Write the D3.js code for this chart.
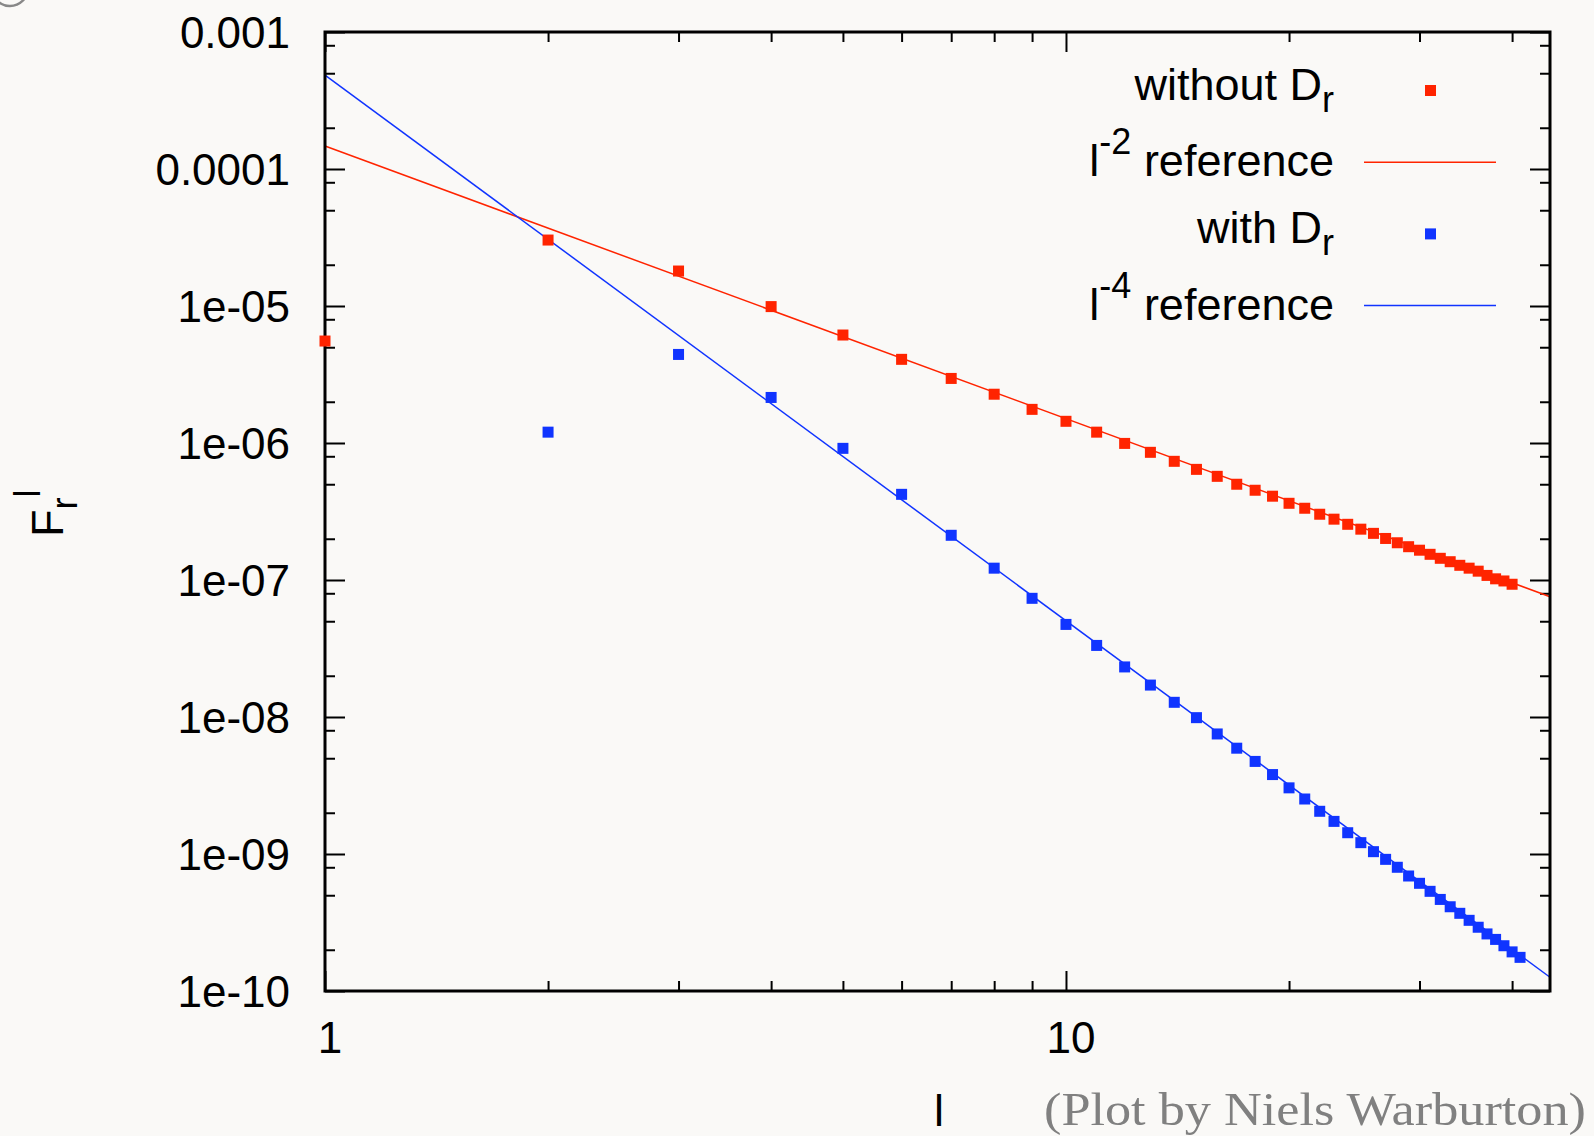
<!DOCTYPE html>
<html>
<head>
<meta charset="utf-8">
<script src="https://cdn.jsdelivr.net/npm/d3@7"></script>
<style>
body{margin:0;background:#faf9f7;}
svg{display:block;}
text{font-family:"Liberation Sans",Arial,Helvetica,sans-serif;fill:#000;}
</style>
</head>
<body>
<script>

// F_r^l for each l
var lRed = [1,2,3,4,5,6,7,8,9,10,11,12,13,14,15,16,17,18,19,20,
            21,22,23,24,25,26,27,28,29,30,31,32,33,34,35,36,37,38,39,40];
var fRed = [5.55e-6,3.03e-5,1.80e-5,9.9e-6,6.14e-6,4.08e-6,2.96e-6,2.27e-6,1.76e-6,1.44e-6,
            1.20e-6,9.93e-7,8.55e-7,7.35e-7,6.42e-7,5.71e-7,5.00e-7,4.52e-7,4.09e-7,3.63e-7,
            3.34e-7,3.02e-7,2.78e-7,2.55e-7,2.35e-7,2.19e-7,2.01e-7,1.87e-7,1.75e-7,1.65e-7,
            1.54e-7,1.44e-7,1.36e-7,1.28e-7,1.22e-7,1.16e-7,1.08e-7,1.02e-7,9.84e-8,9.31e-8];

var lBlue = [2,3,4,5,6,7,8,9,10,11,12,13,14,15,16,17,18,19,20,21,
             22,23,24,25,26,27,28,29,30,31,32,33,34,35,36,37,38,39,40,41];
var fBlue = [1.20e-6,4.43e-6,2.15e-6,9.14e-7,4.22e-7,2.12e-7,1.22e-7,7.35e-8,4.74e-8,3.33e-8,
             2.32e-8,1.71e-8,1.28e-8,9.89e-9,7.52e-9,5.92e-9,4.74e-9,3.80e-9,3.04e-9,2.52e-9,
             2.05e-9,1.73e-9,1.43e-9,1.21e-9,1.04e-9,9.14e-10,8.0e-10,6.91e-10,6.11e-10,5.34e-10,
             4.66e-10,4.12e-10,3.69e-10,3.28e-10,2.92e-10,2.61e-10,2.38e-10,2.14e-10,1.93e-10,1.76e-10];

// reference power laws, end points at the edges of the frame
var refRed = [[1,1.47e-4],[45,7.55e-8]];
var refBlue = [[1,4.85e-4],[45,1.26e-10]];

var xMajor = [1,10];
var xMajorLabels = ["1","10"];
var xMinor = [2,3,4,5,6,7,8,9,20,30,40];

var yMajor = [1e-3,1e-4,1e-5,1e-6,1e-7,1e-8,1e-9,1e-10];
var yMajorLabels = ["0.001","0.0001","1e-05","1e-06","1e-07","1e-08","1e-09","1e-10"];
var yMinor = [8e-4,5e-4,2e-4, 8e-5,5e-5,2e-5, 8e-6,5e-6,2e-6, 8e-7,5e-7,2e-7,
              8e-8,5e-8,2e-8, 8e-9,5e-9,2e-9, 8e-10,5e-10,2e-10];

(function(){

var W = 1594, H = 1136;
var pLeft = 325, pRight = 1550, pTop = 32, pBottom = 991;
var red = "#ff2400", blue = "#1034ff";

var svg = d3.select("body").append("svg").attr("width",W).attr("height",H);
svg.append("rect").attr("width",W).attr("height",H).attr("fill","#faf9f7");

// stray grey circle in the corner
svg.append("circle").attr("cx",10).attr("cy",-12).attr("r",18)
	.attr("fill","none").attr("stroke","#888").attr("stroke-width",2.5);

var x = d3.scaleLog().domain([1,45]).range([pLeft,pRight]);
var y = d3.scaleLog().domain([1e-10,1e-3]).range([pBottom,pTop]);

function tickAxis(axisFn, scale, values, size, pos){
	var g = svg.append("g").attr("transform",pos)
		.call(axisFn(scale).tickValues(values).tickSizeInner(-size).tickSizeOuter(0).tickFormat(""));
	g.select(".domain").remove();
	g.selectAll("line").attr("stroke","#000").attr("stroke-width",2);
	return g;
}

tickAxis(d3.axisBottom,x,xMajor,20,"translate(0,"+pBottom+")");
tickAxis(d3.axisBottom,x,xMinor,10,"translate(0,"+pBottom+")");
tickAxis(d3.axisTop,x,xMajor,20,"translate(0,"+pTop+")");
tickAxis(d3.axisTop,x,xMinor,10,"translate(0,"+pTop+")");
tickAxis(d3.axisLeft,y,yMajor,20,"translate("+pLeft+",0)");
tickAxis(d3.axisLeft,y,yMinor,10,"translate("+pLeft+",0)");
tickAxis(d3.axisRight,y,yMajor,20,"translate("+pRight+",0)");
tickAxis(d3.axisRight,y,yMinor,10,"translate("+pRight+",0)");

// tick labels
svg.append("g").selectAll("text").data(yMajor).enter().append("text")
	.attr("x",290).attr("y",function(d){return y(d);})
	.attr("dy","0.36em").attr("text-anchor","end").attr("font-size",44)
	.text(function(d,i){return yMajorLabels[i];});

svg.append("g").selectAll("text").data(xMajor).enter().append("text")
	.attr("x",function(d){return x(d)+5;}).attr("y",1053)
	.attr("text-anchor","middle").attr("font-size",44)
	.text(function(d,i){return xMajorLabels[i];});

// reference lines
var line = d3.line().x(function(d){return x(d[0]);}).y(function(d){return y(d[1]);});
svg.append("path").datum(refRed).attr("d",line).attr("fill","none")
	.attr("stroke",red).attr("stroke-width",1.5);
svg.append("path").datum(refBlue).attr("d",line).attr("fill","none")
	.attr("stroke",blue).attr("stroke-width",1.5);

// frame
svg.append("rect").attr("x",pLeft).attr("y",pTop)
	.attr("width",pRight-pLeft).attr("height",pBottom-pTop)
	.attr("fill","none").attr("stroke","#000").attr("stroke-width",3);

// data points
var ms = 11;
svg.append("g").selectAll("rect").data(lRed).enter().append("rect")
	.attr("x",function(d){return x(d)-ms/2;})
	.attr("y",function(d,i){return y(fRed[i])-ms/2;})
	.attr("width",ms).attr("height",ms).attr("fill",red);
svg.append("g").selectAll("rect").data(lBlue).enter().append("rect")
	.attr("x",function(d){return x(d)-ms/2;})
	.attr("y",function(d,i){return y(fBlue[i])-ms/2;})
	.attr("width",ms).attr("height",ms).attr("fill",blue);

// legend
var legendItems = [
	{parts:[["without D",0],["r",12]], kind:"point", color:red, shift:9},
	{parts:[["l",0],["-2",-22],[" reference",22]], kind:"line", color:red, shift:14},
	{parts:[["with D",0],["r",12]], kind:"point", color:blue, shift:9},
	{parts:[["l",0],["-4",-22],[" reference",22]], kind:"line", color:blue, shift:14}
];
var rowY0 = 90.5, rowStep = 71.7;
legendItems.forEach(function(item,i){
	var cy = rowY0 + i*rowStep;
	var t = svg.append("text").attr("x",1334).attr("y",cy+item.shift)
		.attr("text-anchor","end").attr("font-size",45);
	item.parts.forEach(function(p,j){
		var small = (j==1);
		t.append("tspan").attr("dy",p[1])
			.attr("font-size",small?36:45).text(p[0]);
	});
	if(item.kind=="point"){
		svg.append("rect").attr("x",1430.5-ms/2).attr("y",cy-ms/2)
			.attr("width",ms).attr("height",ms).attr("fill",item.color);
	}else{
		svg.append("line").attr("x1",1364).attr("x2",1496).attr("y1",cy).attr("y2",cy)
			.attr("stroke",item.color).attr("stroke-width",1.5);
	}
});

// axis titles
var yl = svg.append("text").attr("transform","translate(63,537) rotate(-90)")
	.attr("font-size",45);
yl.append("tspan").text("F");
yl.append("tspan").attr("dy",13.7).attr("font-size",36).text("r");
yl.append("tspan").attr("dy",-36.7).attr("font-size",36).text("l");

svg.append("text").attr("x",939).attr("y",1126).attr("text-anchor","middle")
	.attr("font-size",45).text("l");

svg.append("text").attr("x",1044).attr("y",1125)
	.attr("font-size",46).attr("textLength",542).attr("lengthAdjust","spacingAndGlyphs")
	.style("font-family","'Liberation Serif','Times New Roman',serif").style("fill","#808080")
	.text("(Plot by Niels Warburton)");

})();
</script>
</body>
</html>
